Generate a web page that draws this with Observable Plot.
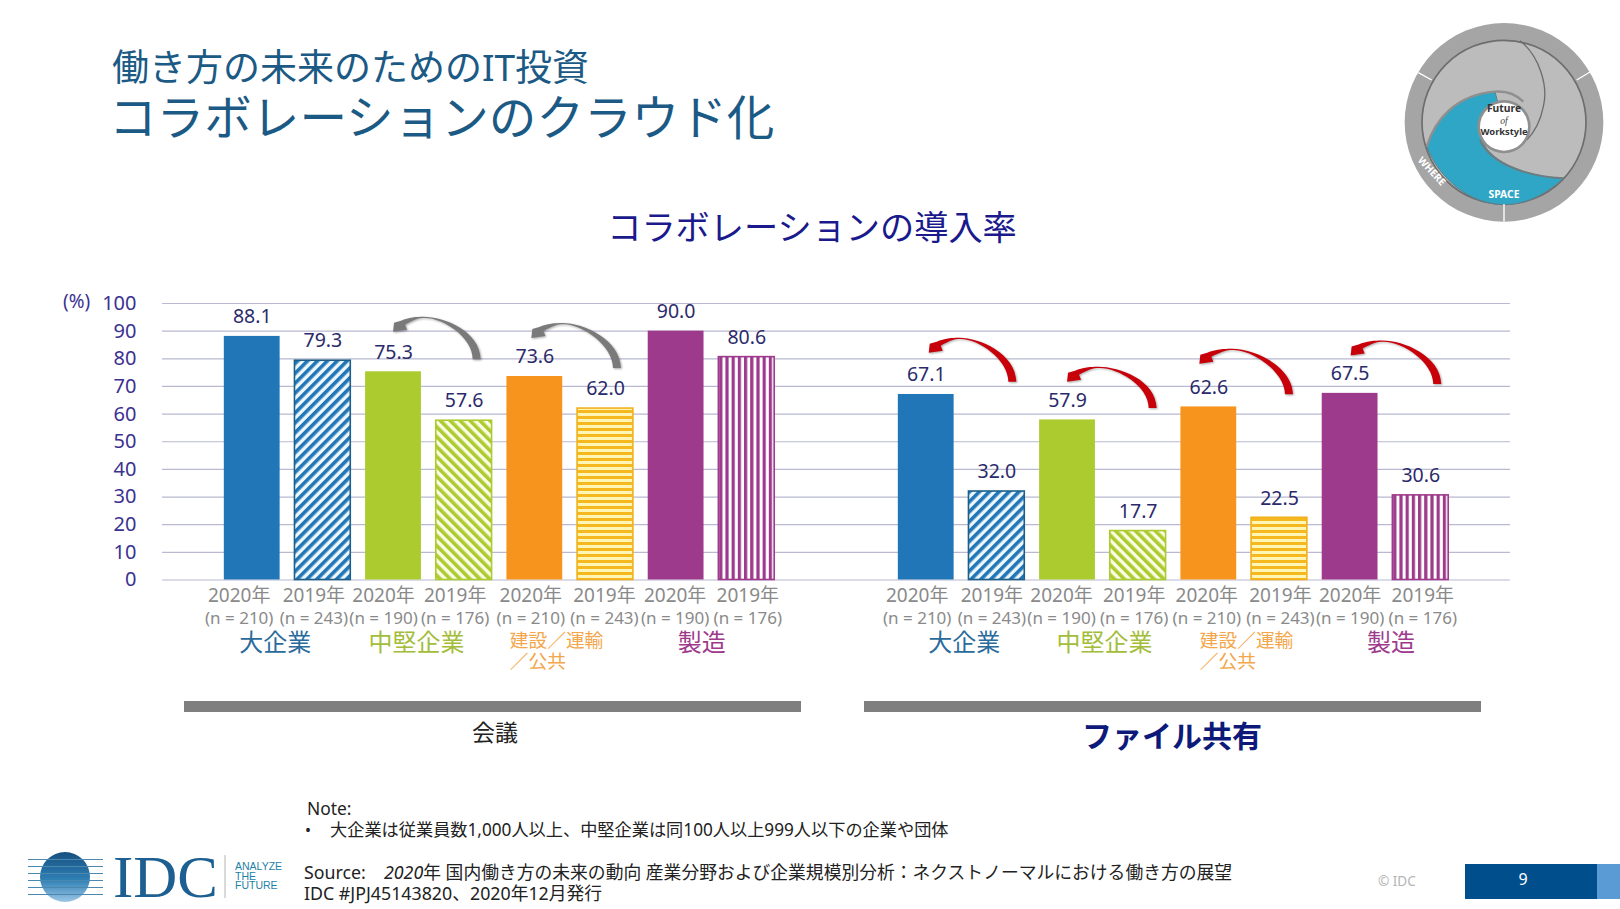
<!DOCTYPE html>
<html lang="ja">
<head>
<meta charset="utf-8">
<script src="https://cdn.jsdelivr.net/npm/d3@7"></script>
<script src="https://cdn.jsdelivr.net/npm/@observablehq/plot@0.6"></script>
<style>
  html,body{margin:0;padding:0;background:#fff;}
  #page{position:relative;width:1620px;height:909px;overflow:hidden;font-family:"Noto Sans","Noto Sans CJK JP",sans-serif;background:#fff;}
  .t{position:absolute;white-space:nowrap;line-height:1;}
  .c{transform:translate(-50%,-50%);}
  .m{transform:translateY(-50%);}
  #chart{position:absolute;left:0;top:260px;}
</style>
</head>
<body>
<div id="page">
  <div class="t m" style="left:112px;top:66px;font-size:37px;color:#1b5a85">働き方の未来のためのIT投資</div>
  <div class="t m" style="left:109px;top:117px;font-size:47.6px;color:#1b5a85">コラボレーションのクラウド化</div>
  <div class="t c" style="left:812px;top:227px;font-size:34.2px;color:#1a1a8c">コラボレーションの導入率</div>
  <div id="chart"></div>
  <div class="t m" style="left:63px;top:301px;font-size:19px;color:#3a3191">(%)</div>

  <div style="position:absolute;left:184px;top:701px;width:617px;height:11px;background:#7f7f7f"></div>
  <div style="position:absolute;left:864px;top:701px;width:617px;height:11px;background:#7f7f7f"></div>
  <div class="t c" style="left:495px;top:731.5px;font-size:23px;color:#222">会議</div>
  <div class="t c" style="left:1172px;top:735.5px;font-size:30px;font-weight:700;color:#0d1a7a">ファイル共有</div>

  <div class="t m" style="left:307px;top:809px;font-size:17.4px;color:#222">Note:</div>
  <div class="t m" style="left:305px;top:829.5px;font-size:16px;color:#222">•</div>
  <div class="t m" style="left:330px;top:829.5px;font-size:17.2px;color:#222">大企業は従業員数1,000人以上、中堅企業は同100人以上999人以下の企業や団体</div>
  <div class="t m" style="left:304px;top:872.5px;font-size:17.8px;color:#222">Source:</div>
  <div class="t m" style="left:384px;top:872.5px;font-size:17.8px;color:#222"><i>2020</i>年 国内働き方の未来の動向 産業分野および企業規模別分析：ネクストノーマルにおける働き方の展望</div>
  <div class="t m" style="left:304px;top:893.5px;font-size:17.8px;color:#222">IDC #JPJ45143820、2020年12月発行</div>

  <div class="t m" style="left:1378px;top:882px;font-size:13.5px;color:#b5b5b5">© IDC</div>
  <div style="position:absolute;left:1465px;top:864px;width:132px;height:35px;background:#004f8c"></div>
  <div style="position:absolute;left:1597px;top:864px;width:23px;height:35px;background:#5b9bd5"></div>
  <div class="t c" style="left:1523px;top:879px;font-size:16px;color:#fff">9</div>

  <svg style="position:absolute;left:0;top:840px" width="300" height="69" viewBox="0 840 300 69">
    <defs>
      <linearGradient id="globe" x1="0" y1="0" x2="0" y2="1">
        <stop offset="0" stop-color="#16507f"/><stop offset=".55" stop-color="#2f7fb5"/><stop offset="1" stop-color="#9cc6e6"/>
      </linearGradient>
    </defs>
    <circle cx="65" cy="877" r="25" fill="url(#globe)"/>
    <g stroke="#fff" stroke-width="3">
      <line x1="28" x2="103" y1="861"/><line x1="28" x2="103" y1="868"/><line x1="28" x2="103" y1="875"/>
      <line x1="28" x2="103" y1="882"/><line x1="28" x2="103" y1="889"/><line x1="28" x2="103" y1="896"/>
    </g>
    <g stroke="#4a88b0" stroke-width="1">
      <path d="M28 859.5H103M28 866.5H103M28 873.5H103M28 880.5H103M28 887.5H103M28 894.5H103" fill="none"/>
    </g>
    <text x="113" y="897" font-family="Liberation Serif" font-size="60" fill="#1d5f91" textLength="105" lengthAdjust="spacingAndGlyphs">IDC</text>
    <line x1="225" x2="225" y1="855" y2="898" stroke="#b5b5b5"/>
    <g font-family="Liberation Sans" font-size="10.5" fill="#1e7fa8">
      <text x="235" y="870">ANALYZE</text><text x="235" y="879.5">THE</text><text x="235" y="889">FUTURE</text>
    </g>
  </svg>

  <svg style="position:absolute;left:1380px;top:0" width="240" height="240" viewBox="0 0 720 720" font-family="Noto Sans">
    <circle cx="372" cy="367" r="298" fill="#a5a5a5"/>
    <circle cx="372" cy="367" r="246" fill="#bcbcbc" stroke="#6d6d6d" stroke-width="5"/>
    <path d="M140 440C165 360 225 285 345 275L372 380L310 430C340 490 440 530 550 535C490 590 430 614 372 614C270 612 180 540 140 440Z" fill="#2fa6c6" stroke="#5f7f8a" stroke-width="3"/>
    <path d="M420 122C480 170 505 260 490 320C480 370 460 400 440 420" fill="none" stroke="#6d6d6d" stroke-width="4"/>
    <path d="M140 440C165 360 225 285 345 275C385 272 410 285 430 305" fill="none" stroke="#8f8f8f" stroke-width="7"/>
    <path d="M300 420C330 490 440 530 550 535" fill="none" stroke="#6d7d82" stroke-width="6"/>
    <circle cx="372" cy="380" r="80" fill="#8f8f8f"/>
    <circle cx="372" cy="380" r="72" fill="#fff"/>
    <path d="M115 218L155 240M630 216L590 240M372 612V665" stroke="#fff" stroke-width="4"/>
    <text x="372" y="337" text-anchor="middle" font-size="31" font-weight="700" fill="#333">Future</text>
    <text x="372" y="371" text-anchor="middle" font-size="29" font-style="italic" fill="#444" font-family="Liberation Serif">of</text>
    <text x="372" y="405" text-anchor="middle" font-size="28" font-weight="700" fill="#333">Workstyle</text>
    <text transform="translate(112 482) rotate(47)" font-size="30" font-weight="700" fill="#fff">WHERE</text>
    <text x="372" y="593" text-anchor="middle" font-size="31" font-weight="700" fill="#fff">SPACE</text>
  </svg>
</div>

<script>
// ---- data ----
const panels = ["会議", "ファイル共有"];
const segments = ["大企業", "中堅企業", "建設／運輸\n／公共", "製造"];
const years = ["2020年", "2019年"];
const sampleSizes = [210, 243, 190, 176, 210, 243, 190, 176];
const meetingValues = [88.1, 79.3, 75.3, 57.6, 73.6, 62.0, 90.0, 80.6];
const fileShareValues = [67.1, 32.0, 57.9, 17.7, 62.6, 22.5, 67.5, 30.6];
const yTicks = [0, 10, 20, 30, 40, 50, 60, 70, 80, 90, 100];

// change arrows: which segment, and the height (in %) of their two ends
const arrowPanels = [0, 0, 1, 1, 1, 1];
const arrowSegments = [1, 2, 0, 1, 2, 3];
const arrowHeadLevel = [89.6, 87.3, 82.0, 71.5, 78.0, 81.0];
const arrowTailLevel = [79.7, 76.5, 71.5, 62.0, 67.0, 70.7];

// ---- styling ----
const solidColors = ["#2176b8", "#abcb2f", "#f7941d", "#9e3a8c"];
const labelColors = ["#2a6b9c", "#a3bd3a", "#f4a64a", "#9e3a8c"];
const outlineColors = ["#1d5f88", "#abcb2f", "#f2b01e", "#9e3a8c"];
const hatchIds = ["url(#h0)", "url(#h1)", "url(#h2)", "url(#h3)"];
const labelNudge = [[-13, -9, -10, -9, -4, -1, -1, 1], [-9, -5, -6, -4, -2, 1, 0, 2]];
const headNudge = [0, -3, 3, 0, -9, 1];
const tailNudge = [13, 12, 16, 15, 10, 17];

const key = i => "b" + i;
const keys = d3.range(8).map(key);
const rows = panels.flatMap((panel, p) =>
  (p === 0 ? meetingValues : fileShareValues).map((value, i) => ({
    panel, p, i, key: key(i), value,
    seg: Math.floor(i / 2),
    is2019: i % 2 === 1,
    year: years[i % 2],
    n: `(n = ${sampleSizes[i]})`
  })));
const groups = panels.flatMap((panel, p) => segments.map((name, s) => ({panel, p, s, name, key: key(s * 2)})));
const arrows = arrowPanels.map((p, a) => ({
  panel: panels[p], p, a,
  head: key(arrowSegments[a] * 2), tail: key(arrowSegments[a] * 2 + 1),
  headLevel: arrowHeadLevel[a], tailLevel: arrowTailLevel[a]
}));

function arrowMark(index, scales, values, dims, ctx) {
  const g = d3.select(ctx.document.createElementNS("http://www.w3.org/2000/svg", "g"));
  const half = scales.x.bandwidth() / 2;
  for (const i of index) {
    const d = arrows[i];
    const H = {x: scales.x(d.head) + half + headNudge[d.a], y: scales.y(d.headLevel)};
    const T = {x: scales.x(d.tail) + half + tailNudge[d.a], y: scales.y(d.tailLevel)};
    const w = T.x - H.x, top = H.y - 15;
    const path = `M${T.x + 4} ${T.y}
      C${T.x + 3} ${T.y - 28} ${H.x + w * .62} ${top} ${H.x + w * .36} ${top}
      C${H.x + w * .28} ${top} ${H.x + 16} ${top + .5} ${H.x + 8} ${H.y - 11}
      L${H.x + 1} ${H.y - 9} L${H.x} ${H.y} L${H.x + 14} ${H.y - 2} L${H.x + 12} ${H.y - 7}
      C${H.x + w * .24} ${top + 3} ${H.x + w * .3} ${top + 1.2} ${H.x + w * .38} ${top + 1.2}
      C${H.x + w * .6} ${top + 1.2} ${T.x - 4} ${T.y - 22} ${T.x - 4} ${T.y}Z`;
    g.append("path").attr("d", path)
      .attr("fill", d.p === 0 ? "#7a7a7a" : "#c8000a")
      .style("filter", "drop-shadow(1px 1px 1px rgba(0,0,0,.35))");
  }
  return g.node();
}

const textMarks = panels.flatMap((panel, p) => keys.flatMap((k, i) => {
  const row = rows.filter(r => r.p === p && r.i === i);
  const dx = labelNudge[p][i];
  return [
    Plot.text(row, {x: "key", fx: "panel", y: 0, text: "year", dx, dy: 15.5, fontSize: 19, fill: "#8a8a8a"}),
    Plot.text(row, {x: "key", fx: "panel", y: 0, text: "n", dx, dy: 38.5, fontSize: 17, fill: "#8a8a8a"})
  ];
}));
const groupDx = [[23, 23, -25, 25.6], [38, 37, -9, 41]];
const groupMarks = groups.map(g => {
  const two = g.s === 2;
  return Plot.text([g], {
    x: "key", fx: "panel", y: 0, text: "name",
    dx: groupDx[g.p][g.s], dy: two ? 71 : 62.5,
    fontSize: two ? 18.7 : 24, lineHeight: 1.14,
    textAnchor: two ? "start" : "middle",
    fill: labelColors[g.s]
  });
});

const chart = Plot.plot({
  width: 1620, height: 500,
  marginTop: 43, marginBottom: 180.5, marginLeft: 162, marginRight: 110,
  style: {fontFamily: '"Noto Sans","Noto Sans CJK JP",sans-serif', background: "transparent", overflow: "visible"},
  fx: {domain: panels, padding: 0, round: false, axis: null},
  x: {domain: keys, paddingInner: .21, paddingOuter: .875, round: false, axis: null},
  y: {domain: [0, 100], axis: null},
  color: {type: "identity"},
  marks: [
    Plot.ruleY(yTicks, {stroke: "#b9b9d2", strokeWidth: 1.2}),
    Plot.axisY(yTicks, {anchor: "left", tickSize: 0, tickPadding: 26, fontSize: 20, color: "#3a3191", label: null}),
    Plot.barY(rows, {
      x: "key", fx: "panel", y: "value",
      fill: d => d.is2019 ? hatchIds[d.seg] : solidColors[d.seg],
      stroke: d => d.is2019 ? outlineColors[d.seg] : "none",
      strokeWidth: 1.6
    }),
    Plot.text(rows, {x: "key", fx: "panel", y: "value", text: d => d.value.toFixed(1), dy: -19.5, fontSize: 19.5, fill: "#2b2a6b"}),
    ...textMarks,
    ...groupMarks,
    Plot.dot(arrows, {x: "head", y: "headLevel", fx: "panel", r: 0, render: arrowMark})
  ]
});

chart.insertAdjacentHTML("afterbegin", `<defs>
  <pattern id="h0" patternUnits="userSpaceOnUse" width="7" height="7" patternTransform="rotate(45)">
    <rect width="7" height="7" fill="#eef8fc"/><rect width="3.6" height="7" fill="#2176b8"/></pattern>
  <pattern id="h1" patternUnits="userSpaceOnUse" width="7" height="7" patternTransform="rotate(-45)">
    <rect width="7" height="7" fill="#fbfde6"/><rect width="3.6" height="7" fill="#abcb2f"/></pattern>
  <pattern id="h2" patternUnits="userSpaceOnUse" width="6" height="6">
    <rect width="6" height="6" fill="#fff6b5"/><rect width="6" height="3" fill="#f5b81e"/></pattern>
  <pattern id="h3" patternUnits="userSpaceOnUse" width="6.2" height="6">
    <rect width="6.2" height="6" fill="#fff"/><rect width="3.2" height="6" fill="#9e3a8c"/></pattern>
</defs>`);
document.getElementById("chart").append(chart);
</script>
</body>
</html>
